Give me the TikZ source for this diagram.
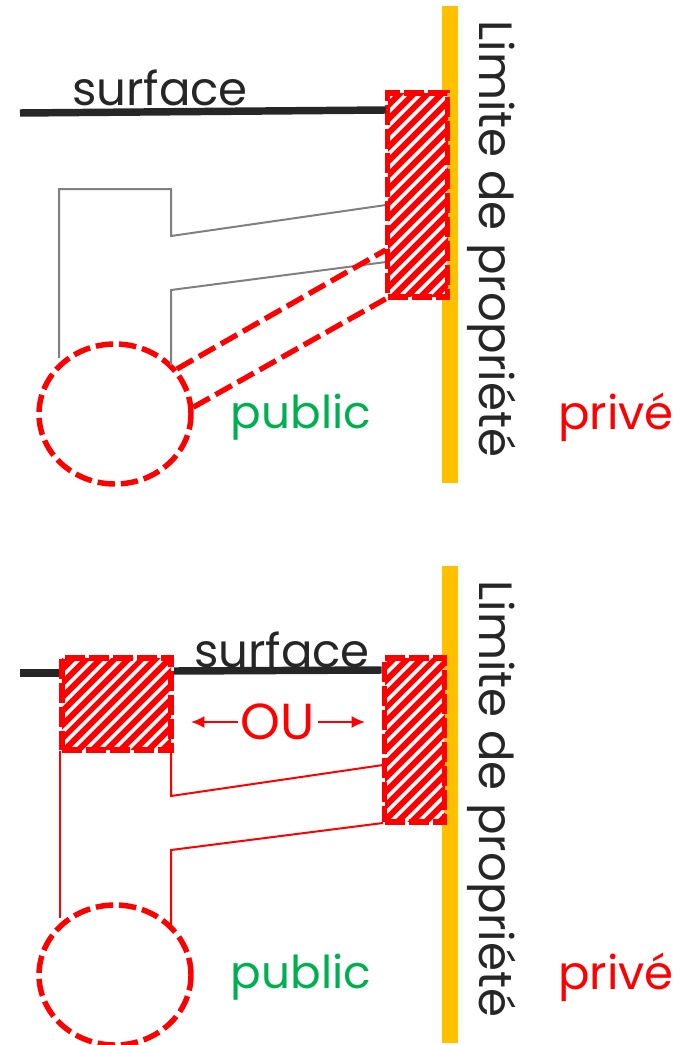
\documentclass[tikz,border=0pt]{standalone}
\usepackage{fontspec}
\setmainfont{Poppins}
\usepackage{tikz}
\usetikzlibrary{shapes,arrows,arrows.meta,patterns.meta}
\definecolor{barorange}{HTML}{FFC000}
\definecolor{groundblack}{HTML}{262626}
\definecolor{publicgreen}{HTML}{00B050}
\begin{document}
\begin{tikzpicture}[x=0.75pt,y=-0.75pt,>={Latex[length=10pt,width=9pt]}]
    \tikzstyle{zone} = [rectangle, draw=red, line width=4.2pt, dash pattern=on 15pt off 3pt, inner sep=0pt,
        preaction={fill=red}, pattern={Lines[angle=45,distance=7.4pt,line width=2.8pt]}, pattern color=white]
    \tikzstyle{well} = [ellipse, draw=red, line width=4.1pt, dash pattern=on 13pt off 4.5pt, inner sep=0pt,
        minimum width=114pt, minimum height=105pt]
    \tikzstyle{limit} = [rectangle, fill=barorange, minimum width=12pt, minimum height=358pt, inner sep=0pt]
    \tikzstyle{ground} = [draw=groundblack, line width=5.6pt]
    \tikzstyle{pipe} = [draw=gray, line width=1.5pt]
    \tikzstyle{pipered} = [draw=red, line width=1.5pt]
    \tikzstyle{link} = [draw=red, line width=4pt, dash pattern=on 14pt off 5pt]
    \tikzstyle{label} = [font=\fontsize{35}{40}\selectfont, inner sep=0pt]
    \useasboundingbox (0,0) rectangle (684,1045);

    % top case
    \node [limit] (limittop) at (450,244.5) {};
    \node [label, rotate=-90, text=groundblack] (limittext) at (492,239) {Limite de propriété};
    \coordinate (groundleft) at (20,113);
    \node [label, text=groundblack] (surfacetop) at (160,88) {surface};
    \node [label, text=publicgreen, font=\fontsize{34}{40}\selectfont] (publictop) at (301,417) {public};
    \node [label, text=red] (privetop) at (616,417) {privé};
    \node [well] (welltop) at (115,414) {};
    \coordinate (pipea) at (59,358);
    \coordinate (pipeb) at (171,365);
    \path [pipe] (pipea) -- (59,189) -- (171,189) -- (171,236) -- (386,205);
    \path [pipe] (pipeb) -- (171,290) -- (386,262);
    \node [zone, minimum width=45pt, minimum height=153pt] (zonetop) at (417.5,195) {};
    \path [ground] (groundleft) -- (zonetop.west |- 0,110);
    \path [link] (welltop.36) -- (zonetop.west |- 0,250);
    \path [link] (welltop.5) -- (zonetop.south west);

    % bottom case
    \node [limit] (limitbot) at (450,804.5) {};
    \node [label, rotate=-90, text=groundblack] (limittextbot) at (492,799) {Limite de propriété};
    \coordinate (groundleftbot) at (20,673);
    \node [label, text=groundblack] (surfacebot) at (282,650) {surface};
    \node [label, text=publicgreen, font=\fontsize{34}{40}\selectfont] (publicbot) at (301,977) {public};
    \node [label, text=red] (privebot) at (616,977) {privé};
    \node [well] (wellbot) at (115,975) {};
    \coordinate (pipec) at (60,918);
    \coordinate (piped) at (171,925);
    \path [pipered] (pipec) -- (60,751);
    \path [pipered] (171,751) -- (171,796) -- (383,765);
    \path [pipered] (piped) -- (171,850) -- (383,823);
    \node [zone, minimum width=82pt, minimum height=69pt] (zoneleft) at (116.5,704) {};
    \node [zone, minimum width=45pt, minimum height=123pt] (zoneright) at (414.5,740) {};
    \path [ground] (groundleftbot) -- (zoneleft.west |- 0,673);
    \path [ground] (zoneleft.east |- 0,671) -- (zoneright.west |- 0,670);
    \node [label, text=red, font=\fontsize{38}{40}\selectfont] (ou) at (278,722) {OU};
    \draw [->, draw=red, line width=1.5pt] (ou.west) ++(-3,0) -- (191,722);
    \draw [->, draw=red, line width=1.5pt] (ou.east) ++(3,0) -- (365,722);
\end{tikzpicture}
\end{document}
